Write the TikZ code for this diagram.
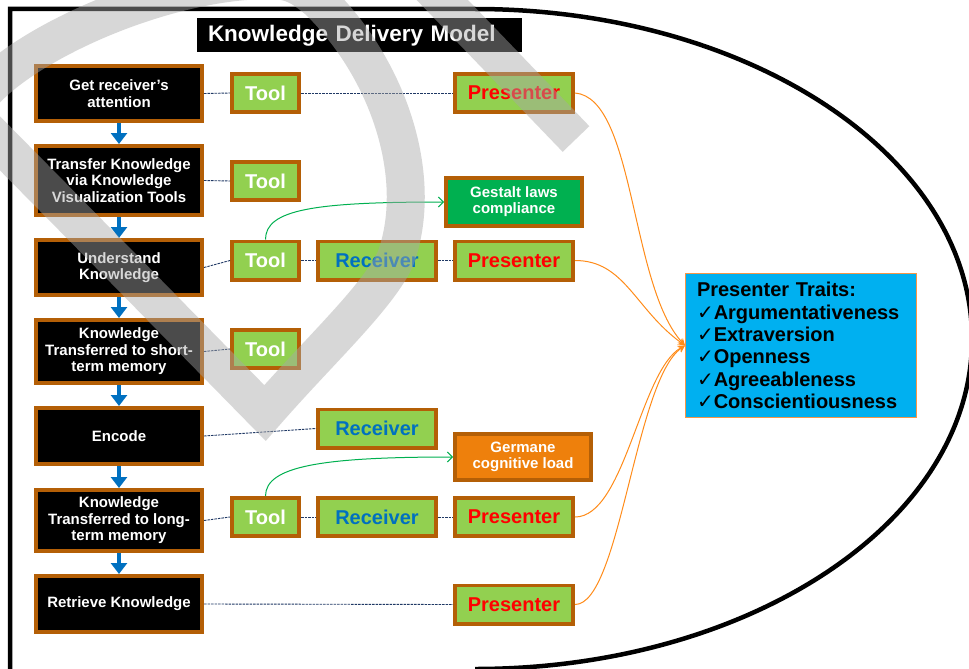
\documentclass[tikz,border=0pt]{standalone}
\usepackage{fontspec}
\setmainfont{Liberation Sans}
\newfontfamily\dejavu{DejaVu Sans}
\usetikzlibrary{arrows.meta}
\definecolor{brd}{RGB}{180,95,6}
\definecolor{lgreen}{RGB}{146,208,80}
\definecolor{dgreen}{RGB}{0,176,80}
\definecolor{orng}{RGB}{238,128,12}
\definecolor{cyanb}{RGB}{0,176,240}
\definecolor{abl}{RGB}{0,112,192}
\definecolor{navy}{RGB}{31,56,100}
\definecolor{ocurve}{RGB}{255,140,26}
\definecolor{gcurve}{RGB}{0,176,80}
\definecolor{rcol}{RGB}{255,0,0}
\definecolor{wm}{RGB}{168,168,168}
\definecolor{tbord}{RGB}{247,150,70}
\begin{document}
\begin{tikzpicture}[x=1pt,y=-1pt,
  blk/.style={fill=black, draw=brd, line width=3.6pt, text=white,
    font=\bfseries\fontsize{15}{16.5}\selectfont, align=center,
    inner sep=0pt, minimum width=166.4pt},
  gbox/.style={fill=lgreen, draw=brd, line width=3.6pt,
    font=\bfseries\fontsize{20}{24}\selectfont, inner sep=0pt, minimum height=38.4pt},
  toolbox/.style={gbox, text=white, minimum width=67.4pt},
  recvbox/.style={gbox, text=abl, minimum width=118.4pt},
  presbox/.style={gbox, text=rcol, minimum width=118.4pt},
  notebox/.style={draw=brd, line width=3.6pt, text=white, align=center,
    font=\bfseries\fontsize{15}{16}\selectfont, inner sep=0pt, minimum width=136.4pt},
  barrow/.style={draw=abl, line width=4pt, -{Triangle[width=16pt,length=11pt]}},
  dconn/.style={draw=navy, line width=0.9pt, dash pattern=on 2.5pt off 1pt},
  ocon/.style={draw=ocurve, line width=1pt, -{Stealth[length=7pt,width=7pt]}},
  gcon/.style={draw=gcurve, line width=1pt, -{Straight Barb[length=5pt,width=10pt]}},
]
\useasboundingbox (0,0) rectangle (969,669);
\clip (0,0) rectangle (969,669);
\fill[white] (0,0) rectangle (969,669);

% frame
\draw[line width=4.5pt] (10,680) -- (10,9) -- (475,9)
  .. controls (749,9) and (972,156) .. (972,339)
  .. controls (972,522) and (749,669) .. (475,669);

% title
\node[fill=black, text=white, font=\bfseries\fontsize{22.5}{26}\selectfont,
  minimum height=34pt, text width=303pt, align=left, inner xsep=11pt, inner ysep=0pt]
  (title) at (359.5,35.5) {Knowledge Delivery Model};

% left column
\node[blk, minimum height=55.4pt] (B1) at (119,93.5) {Get receiver’s\\attention};
\node[blk, minimum height=69.4pt] (B2) at (119,180.5) {Transfer Knowledge\\via Knowledge\\Visualization Tools};
\node[blk, minimum height=55.4pt] (B3) at (119,267.5) {Understand\\Knowledge};
\node[blk, minimum height=63.4pt] (B4) at (119,351.5) {Knowledge\\Transferred to short-\\term memory};
\node[blk, minimum height=56.4pt] (B5) at (119,436) {Encode};
\node[blk, minimum height=61.4pt] (B6) at (119,520.5) {Knowledge\\Transferred to long-\\term memory};
\node[blk, minimum height=56.4pt] (B7) at (119,604) {Retrieve Knowledge};

% tool / receiver / presenter boxes
\node[toolbox] (T1) at (265.5,93) {Tool};
\node[presbox] (P1) at (514,93) {Presenter};
\node[toolbox] (T2) at (265.5,181) {Tool};
\node[toolbox] (T3) at (265.5,260.5) {Tool};
\node[recvbox] (R3) at (377,260.5) {Receiver};
\node[presbox] (P3) at (514,260.5) {Presenter};
\node[toolbox] (T4) at (265.5,349) {Tool};
\node[recvbox] (R5) at (377,428.5) {Receiver};
\node[toolbox] (T6) at (265.5,517) {Tool};
\node[recvbox] (R6) at (377,517) {Receiver};
\node[presbox] (P6) at (514,517) {Presenter};
\node[presbox] (P7) at (514,604.5) {Presenter};

\node[notebox, fill=dgreen, minimum height=48.4pt] (G) at (514,202) {Gestalt laws\\compliance};
\node[notebox, fill=orng, minimum height=46.4pt] (GL) at (523,457) {Germane\\cognitive load};

% traits
\node[fill=cyanb, draw=tbord, line width=1.2pt, text=black,
  font=\bfseries\fontsize{20}{22.4}\selectfont, text width=208pt, align=left,
  inner xsep=11.4pt, minimum height=143.8pt] (TR) at (801,345.5)
  {Presenter Traits:\\
   {\dejavu\mdseries ✓}Argumentativeness\\
   {\dejavu\mdseries ✓}Extraversion\\
   {\dejavu\mdseries ✓}Openness\\
   {\dejavu\mdseries ✓}Agreeableness\\
   {\dejavu\mdseries ✓}Conscientiousness};

% flow arrows
\draw[barrow] (B1.south) -- (B2.north);
\draw[barrow] (B2.south) -- (B3.north);
\draw[barrow] (B3.south) -- (B4.north);
\draw[barrow] (B4.south) -- (B5.north);
\draw[barrow] (B5.south) -- (B6.north);
\draw[barrow] (B6.south) -- (B7.north);

% dashed links
\draw[dconn] (B1.east) -- (T1.west);
\draw[dconn] (T1.east) -- (P1.west);
\draw[dconn] (B2.east) -- (T2.west);
\draw[dconn] (B3.east) -- (T3.west);
\draw[dconn] (T3.east) -- (R3.west);
\draw[dconn] (R3.east) -- (P3.west);
\draw[dconn] (B4.east) -- (T4.west);
\draw[dconn] (B5.east) -- (R5.west);
\draw[dconn] (B6.east) -- (T6.west);
\draw[dconn] (T6.east) -- (R6.west);
\draw[dconn] (R6.east) -- (P6.west);
\draw[dconn] (B7.east) -- (P7.west);

% green curves
\draw[gcon] (T3.north) .. controls +(0,-30) and +(-130,0) .. (G.west);
\draw[gcon] (T6.north) .. controls +(0,-30) and +(-130,0) .. (GL.west);

% orange curves
\draw[ocon] (P1.east) .. controls +(60,5) and +(-55,-60) .. (TR.west);
\draw[ocon] (P3.east) .. controls +(50,0) and +(-50,-36) .. (TR.west);
\draw[ocon] (P6.east) .. controls +(50,0) and +(-45,25) .. (TR.west);
\draw[ocon] (P7.east) .. controls +(45,0) and +(-50,35) .. (TR.west);

% watermark
\begin{scope}[draw=wm, draw opacity=0.45, line join=miter, line cap=butt]
\draw[line width=38pt] (118,263) -- (-30,113)
  .. controls (-10,60) and (150,-20) .. (270,-20)
  .. controls (295,-20) and (305,-10) .. (318,0)
  .. controls (390,70) and (425,180) .. (395,260)
  .. controls (375,300) and (320,350) .. (265,413) -- cycle;
\draw[line width=37pt] (400,-44) -- (576,139);
\end{scope}
\end{tikzpicture}
\end{document}
